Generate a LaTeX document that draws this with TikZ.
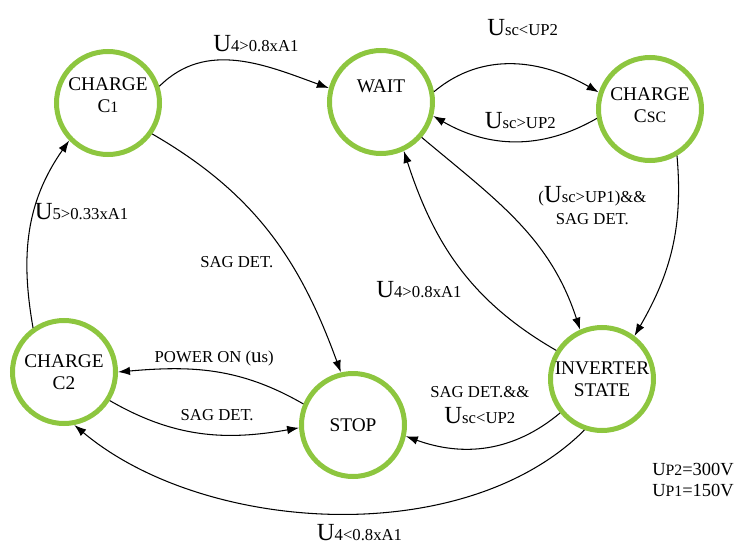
\documentclass[tikz,border=0pt]{standalone}
\usepackage{fontspec}
\setmainfont{Liberation Serif}
\usetikzlibrary{arrows.meta}
\definecolor{stategreen}{RGB}{141,198,63}
\newcommand{\UU}{{\fontsize{14}{14}\selectfont U}}
\tikzset{
  state/.style={circle, draw=stategreen, line width=1mm, minimum size=20.6mm,
    inner sep=0pt, align=center, font=\fontsize{11}{12.5}\selectfont},
  lbl/.style={font=\fontsize{9.5}{11.5}\selectfont, align=center, inner sep=1pt},
  arr/.style={-{Latex[length=2.4mm,width=1.7mm]}, line width=0.6pt}
}
\begin{document}
\begin{tikzpicture}[x=0.2mm,y=0.2mm]
            \useasboundingbox (0,0) rectangle (734,550);
            % the states
            \node[state] (c1) at (108,447) {CHARGE\\C{\small 1}\\[-3.5pt]};
            \node[state] (wait) at (381,448) {WAIT\\[1ex]};
            \node[state] (csc) at (650,441) {CHARGE\\C{\small SC}\\[-8pt]};
            \node[state] (inv) at (602,171) {INVERTER\\STATE};
            \node[state] (stop) at (353,125) {STOP};
            \node[state] (c2) at (64,178) {CHARGE\\C2};

            % the transitions (labels sit on the arrows)
            \draw[arr] (c1.18) to[out=45,in=160]
                node[lbl, pos=0.5, above=4pt, xshift=10] {\UU 4>0.8xA1} (wait.165);
            \draw[arr] (wait.11) to[out=40,in=150]
                node[lbl, pos=0.5, above=15pt, xshift=5] {\UU sc<UP2} (csc.162);
            \draw[arr] (csc.190) to[out=210,in=-30]
                node[lbl, pos=0.5, above=6pt, xshift=3] {\UU sc>UP2} (wait.-15);
            \draw[arr] (csc.-60) to[out=-85,in=60] (inv.53);
            \draw[arr] (wait.-41) to[out=-40,in=108]
                node[lbl, pos=0.4, right=8pt, xshift=12] {(\UU sc>UP1)\&\&\\[1pt]SAG DET.} (inv.114);
            \draw[arr] (inv.148) to[out=150,in=-72]
                node[lbl, pos=0.38, left=14pt, xshift=6] {\UU 4>0.8xA1} (wait.-65);
            \draw[arr] (c1.-35) to[out=-30,in=110]
                node[lbl, pos=0.62, left=8pt] {SAG DET.} (stop.103);
            \draw[arr] (c2.125) to[out=100,in=235]
                node[lbl, pos=0.6, anchor=west, xshift=-1] {\UU 5>0.33xA1} (c1.224);
            \draw[arr] (stop.157) to[out=150,in=5]
                node[lbl, pos=0.5, above=2pt] {POWER ON ({\large u}s)} (c2.0);
            \draw[arr] (c2.-32) to[out=-30,in=190]
                node[lbl, pos=0.55, above=6pt, xshift=4] {SAG DET.} (stop.183);
            \draw[arr] (inv.219) to[out=220,in=-20]
                node[lbl, pos=0.5, above=12pt, xshift=-4] {SAG DET.\&\&\\[3pt]\UU sc<UP2} (stop.-12);
            \draw[arr] (inv.251) to[out=225,in=-40, looseness=0.85]
                node[lbl, pos=0.5, below=5pt, xshift=15] {\UU 4<0.8xA1} (c2.-79);

            % the thresholds
            \node[lbl, align=left, font=\fontsize{10.5}{12.5}\selectfont] (param) at (693,70)
                {U{\small P2}=300V\\U{\small P1}=150V};
\end{tikzpicture}
\end{document}
